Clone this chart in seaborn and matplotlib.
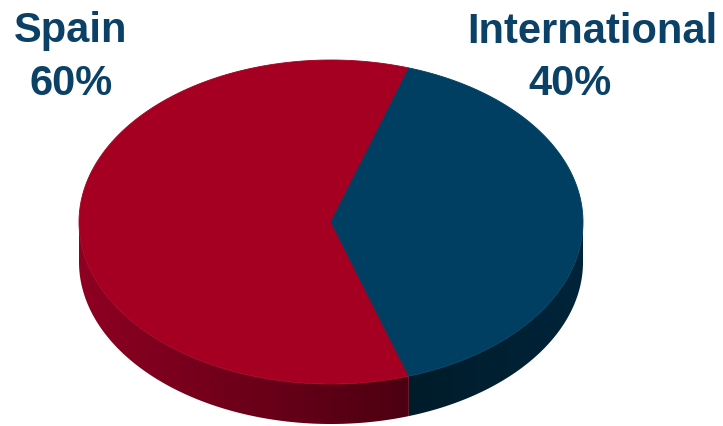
import numpy as np
import matplotlib
matplotlib.use("Agg")
import matplotlib.pyplot as plt
from matplotlib.patches import Polygon
from matplotlib.colors import LinearSegmentedColormap
import seaborn as sns

# Revenue split by market
regions = ["Spain", "International"]
shares = [60, 40]

top_colors = ["#A50021", "#003F62"]
side_from = ["#8E0022", "#001C2A"]   # side wall shade at the left end of each arc
side_to = ["#4C0011", "#00243A"]     # side wall shade at the right end of each arc
text_color = "#0B4166"

sns.set_theme(style="white")
plt.rcParams["font.family"] = ["Liberation Sans", "DejaVu Sans"]

fig = plt.figure(figsize=(7.23, 4.27), dpi=100)
ax = fig.add_axes([0, 0, 1, 1])
ax.set_xlim(0, 723)
ax.set_ylim(427, 0)
ax.axis("off")

# ellipse geometry of the pie's top face (pixel units) and its thickness
cx, cy, rx, ry, depth = 331, 223, 252, 162, 40


def rim(theta_deg, drop=0.0):
    t = np.radians(theta_deg)
    return cx + rx * np.cos(t), cy - ry * np.sin(t) + drop


spans = np.array(shares, dtype=float) / sum(shares) * 360.0
start = spans[1] / 2.0  # International slice centred on the right-hand side
bounds = []
for span in spans:
    bounds.append((start, start + span))
    start += span

# side walls (front half of the rim only), shaded with a horizontal gradient
for i, (t0, t1) in enumerate(bounds):
    lo, hi = max(t0, 180.0), min(t1, 360.0)
    if hi <= lo:
        continue
    ts = np.linspace(lo, hi, 200)
    xs, ys = rim(ts)
    pts = list(zip(xs, ys)) + list(zip(xs[::-1], ys[::-1] + depth))
    wall = Polygon(pts, closed=True, facecolor="none", edgecolor="none")
    ax.add_patch(wall)
    cmap = LinearSegmentedColormap.from_list(
        f"wall{i}", sns.blend_palette([side_from[i], side_to[i]], 64))
    grad = np.linspace(0, 1, 256)[None, :]
    x0, x1 = xs.min(), xs.max()
    y0, y1 = ys.min() - 2, ys.max() + depth + 2
    im = ax.imshow(grad, cmap=cmap, aspect="auto", extent=(x0, x1, y1, y0),
                   interpolation="bilinear", zorder=1)
    im.set_clip_path(wall)

# top face wedges
for i, (t0, t1) in enumerate(bounds):
    ts = np.linspace(t0, t1, 300)
    xs, ys = rim(ts)
    pts = [(cx, cy)] + list(zip(xs, ys))
    ax.add_patch(Polygon(pts, closed=True, facecolor=top_colors[i],
                         edgecolor=top_colors[i], linewidth=0.6, zorder=2))

ax.set_xlim(0, 723)
ax.set_ylim(427, 0)

# labels
label_kw = dict(fontsize=30, fontweight="bold", color=text_color, va="baseline")
ax.text(71, 42, regions[0], ha="center", **label_kw)
ax.text(71, 95, f"{shares[0]}%", ha="center", **label_kw)
ax.text(592, 43, regions[1], ha="center", **label_kw)
ax.text(570, 95, f"{shares[1]}%", ha="center", **label_kw)

fig.savefig("out.png", dpi=100, facecolor="white")
